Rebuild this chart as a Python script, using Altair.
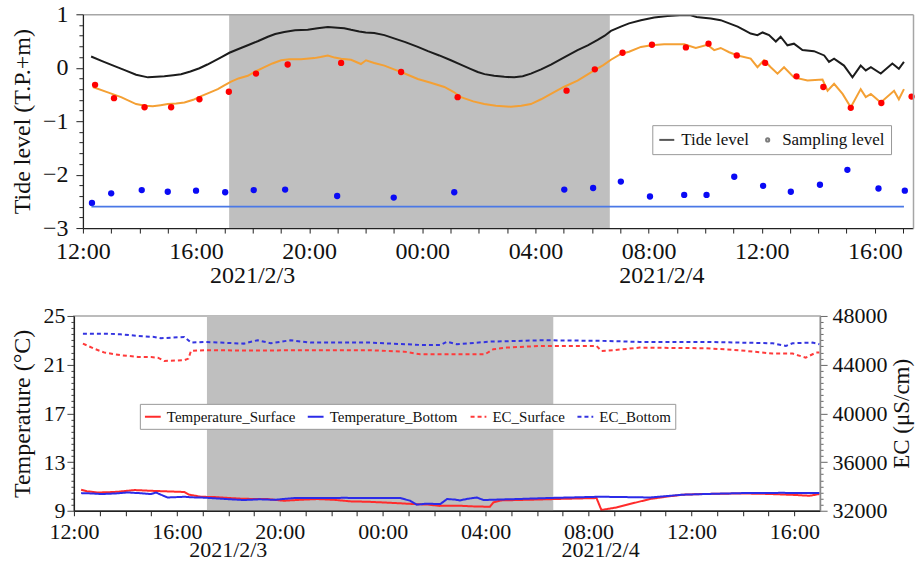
import altair as alt
import pandas as pd

FONT = "Liberation Serif"

# ---------------- top panel values (hours after 2021/2/3 12:00, metres T.P.) ----------------
tide_level = [(0.29,0.21),(0.7,0.12),(1.12,0.03),(1.5,-0.05),(1.88,-0.13),(2.3,-0.18),(2.6,-0.17),(2.88,-0.16),
    (3.2,-0.14),(3.47,-0.12),(3.8,-0.07),(4.12,-0.01),(4.4,0.06),(4.65,0.13),(4.9,0.2),(5.18,0.28),(5.5,0.35),
    (5.83,0.42),(6.2,0.5),(6.54,0.58),(6.8,0.63),(7.12,0.67),(7.5,0.7),(7.95,0.71),(8.3,0.74),(8.66,0.76),
    (9.0,0.75),(9.24,0.74),(9.48,0.71),(9.77,0.68),(10.0,0.66),(10.3,0.65),(10.66,0.61),(11.0,0.55),(11.4,0.48),
    (11.84,0.39),(12.2,0.31),(12.6,0.23),(13.01,0.14),(13.4,0.05),(13.7,-0.02),(13.96,-0.08),(14.2,-0.12),
    (14.54,-0.15),(14.9,-0.17),(15.25,-0.18),(15.55,-0.16),(15.84,-0.11),(16.2,-0.03),(16.55,0.06),(17.0,0.19),
    (17.49,0.33),(17.85,0.42),(18.2,0.52),(18.45,0.6),(18.67,0.69),(19.02,0.77),(19.31,0.83),(19.73,0.89),
    (20.2,0.94),(20.67,0.97),(21.1,0.98),(21.49,0.98),(21.7,0.95),(21.85,0.94),(22.2,0.92),(22.55,0.89),
    (22.85,0.83),(23.15,0.77),(23.4,0.7),(23.61,0.64),(23.85,0.61),(24.03,0.66),(24.26,0.61),(24.5,0.49),
    (24.67,0.58),(24.91,0.42),(25.14,0.45),(25.44,0.33),(25.85,0.31),(26.21,0.23),(26.38,0.11),(26.56,0.17),
    (26.91,0.04),(27.21,-0.18),(27.5,0.04),(27.68,-0.05),(27.86,0.01),(28.21,-0.11),(28.62,0.08),(28.85,-0.02),
    (29.03,0.11)]
surface_level = [(0.35,-0.36),(0.88,-0.46),(1.35,-0.55),(1.88,-0.68),(2.2,-0.71),(2.47,-0.72),(2.75,-0.7),
    (3.0,-0.68),(3.3,-0.67),(3.59,-0.65),(3.9,-0.6),(4.18,-0.53),(4.5,-0.46),(4.77,-0.4),(5.0,-0.33),(5.24,-0.26),
    (5.5,-0.2),(5.83,-0.15),(6.1,-0.07),(6.42,0.01),(6.7,0.08),(7.01,0.14),(7.3,0.16),(7.71,0.16),(8.18,0.18),
    (8.4,0.2),(8.66,0.23),(8.9,0.19),(9.13,0.17),(9.48,0.15),(9.83,0.07),(10.01,0.14),(10.3,0.09),(10.66,0.04),
    (11.0,-0.03),(11.25,-0.08),(11.84,-0.21),(12.3,-0.28),(12.78,-0.36),(13.1,-0.45),(13.37,-0.55),(13.8,-0.63),
    (14.19,-0.68),(14.6,-0.71),(15.13,-0.73),(15.5,-0.71),(15.84,-0.68),(16.2,-0.59),(16.55,-0.49),(17.0,-0.36),
    (17.49,-0.24),(18.08,-0.05),(18.4,0.05),(18.67,0.15),(19.02,0.26),(19.31,0.3),(19.73,0.39),(20.1,0.42),
    (20.55,0.44),(21.26,0.44),(21.67,0.37),(22.08,0.43),(22.32,0.33),(22.55,0.37),(22.85,0.29),(23.15,0.23),
    (23.61,0.17),(23.85,0.01),(24.08,0.14),(24.32,0.01),(24.56,-0.11),(24.79,0.01),(25.14,-0.18),(25.62,-0.24),
    (26.15,-0.22),(26.33,-0.43),(26.56,-0.3),(26.86,-0.49),(27.15,-0.74),(27.5,-0.4),(27.68,-0.55),(27.86,-0.49),
    (28.21,-0.65),(28.68,-0.43),(28.85,-0.59),(29.03,-0.4)]
surface_samples = [(0.43,-0.32),(1.1,-0.57),(2.18,-0.74),(3.12,-0.74),(4.12,-0.59),(5.16,-0.45),(6.12,-0.11),
    (7.24,0.06),(9.13,0.09),(11.25,-0.08),(13.25,-0.55),(17.1,-0.43),(18.1,-0.03),(19.08,0.28),(20.12,0.43),
    (21.32,0.38),(22.12,0.45),(23.12,0.23),(24.12,0.09),(25.23,-0.16),(26.18,-0.36),(27.15,-0.75),(28.23,-0.66),
    (29.3,-0.54)]
bottom_samples = [(0.32,-2.53),(1.0,-2.35),(2.08,-2.29),(3.0,-2.32),(4.0,-2.3),(5.03,-2.33),(6.04,-2.29),
    (7.15,-2.28),(8.99,-2.4),(10.99,-2.43),(13.13,-2.33),(17.02,-2.28),(18.04,-2.25),(19.02,-2.13),(20.05,-2.41),
    (21.26,-2.38),(22.05,-2.38),(23.03,-2.04),(24.05,-2.21),(25.03,-2.32),(26.06,-2.19),(27.03,-1.91),
    (28.13,-2.26),(29.06,-2.3)]
bed_level = [(0.3, 29.03, -2.6)]          # start hour, end hour, level
night = [(5.17, 18.63)]                   # shaded period
date_hours = [6.0, 20.47]
date_labels = ["2021/2/3", "2021/2/4"]
legend_keys = ["Tide level", "Sampling level"]

# ---------------- bottom panel values ----------------
temp_surface = [(0.28,10.73),(0.5,10.6),(0.93,10.5),(1.3,10.52),(1.7,10.56),(2.35,10.7),(3.0,10.64),(3.64,10.59),
    (4.29,10.54),(4.48,10.32),(4.93,10.15),(5.5,10.12),(6.0,10.05),(6.6,9.98),(7.52,9.96),(8.16,9.82),(8.8,9.9),
    (9.46,9.96),(10.1,9.9),(10.75,9.77),(11.4,9.74),(12.04,9.68),(12.6,9.62),(13.2,9.55),(13.8,9.5),(14.2,9.4),
    (15.0,9.41),(15.6,9.35),(16.17,9.33),(16.3,9.68),(16.6,9.85),(17.21,9.88),(18.0,9.92),(19.0,9.98),(20.31,10.04),
    (20.5,9.06),(21.09,9.27),(21.6,9.55),(22.38,9.96),(23.0,10.15),(23.67,10.32),(24.5,10.38),(25.99,10.42),
    (27.0,10.38),(28.0,10.3),(28.58,10.23),(28.97,10.37)]
temp_bottom = [(0.28,10.45),(0.7,10.42),(1.06,10.37),(1.6,10.42),(2.09,10.5),(2.6,10.44),(3.0,10.37),(3.19,10.5),
    (3.4,10.3),(3.64,10.09),(4.0,10.12),(4.29,10.15),(4.6,10.1),(4.93,10.09),(5.5,10.02),(6.0,9.95),(6.61,9.88),
    (7.2,9.94),(7.8,9.9),(8.55,10.04),(9.5,10.04),(10.5,10.06),(11.5,10.04),(12.69,10.04),(13.07,9.82),(13.33,9.5),
    (13.7,9.58),(14.24,9.55),(14.5,9.96),(14.8,9.92),(15.0,9.85),(15.3,9.98),(15.66,10.09),(15.92,9.88),(16.5,9.92),
    (17.21,9.96),(18.5,10.05),(20.44,10.15),(21.5,10.12),(22.38,10.09),(23.0,10.2),(23.67,10.32),(25.0,10.4),
    (25.99,10.45),(27.5,10.47),(28.97,10.45)]
ec_surface = [(0.35,45728),(0.8,45300),(1.19,44989),(1.83,44775),(2.48,44636),(3.0,44620),(3.26,44578),(3.51,44308),
    (4.29,44365),(4.45,44500),(4.55,45128),(5.06,45186),(7.0,45160),(8.94,45186),(10.0,45180),(11.52,45186),
    (12.82,45070),(13.46,44857),(14.62,44857),(15.98,44857),(16.3,45268),(16.82,45400),(18.11,45538),(20.31,45538),
    (20.5,45128),(20.95,45186),(21.99,45400),(24.57,45350),(25.86,45186),(27.15,44908),(27.93,44908),(28.44,44580),
    (28.84,44989),(28.97,45000)]
ec_bottom = [(0.35,46548),(1.19,46548),(1.8,46500),(2.48,46359),(3.12,46277),(3.38,46170),(4.29,46277),(4.55,45810),
    (5.06,45867),(6.61,45728),(7.13,46006),(7.65,45760),(8.42,46006),(9.2,45810),(11.52,45810),(13.46,45620),
    (14.24,45620),(14.5,45890),(14.88,45678),(16.18,45892),(18.24,46006),(20.7,45950),(21.99,45867),(24.57,45867),
    (27.15,45760),(27.67,45538),(27.93,45760),(28.7,45810),(28.97,45678)]
series_names = ["Temperature_Surface", "Temperature_Bottom", "EC_Surface", "EC_Bottom"]
series_colors = ["#ff2b2b", "#2b2be8", "#ff3a3a", "#3434e0"]

# ---------------- helpers ----------------
def frame(pairs):
    return pd.DataFrame(pairs, columns=["h", "v"])

hour_label = "((12 + datum.value) % 24 < 10 ? '0' : '') + ((12 + datum.value) % 24) + ':00'"

# ======================= TOP PANEL =======================
TW, TH = 840, 214
xs_top = alt.Scale(domain=[0, 29.35], range=[9, TW], nice=False, zero=False)
ys_top = alt.Scale(domain=[-3, 1], nice=False, zero=False)
is_int = "abs(datum.value - round(datum.value)) < 0.001"

ax_top_x = alt.Axis(values=list(range(0, 30)), labelExpr=f"datum.value % 4 == 0 ? {hour_label} : ''",
                    title=None, grid=False, tickSize=5, labelPadding=6, labelFontSize=24,
                    labelFlush=False, labelOverlap=False, domainColor="#222", tickColor="#222",
                    domainWidth=1.3, zindex=1)
ax_top_y = alt.Axis(values=[round(-3 + 0.2 * i, 1) for i in range(21)],
                    labelExpr=f"{is_int} ? format(round(datum.value), 'd') : ''",
                    title="Tide level (T.P.+m)", grid=False,
                    tickSize={"condition": {"test": is_int, "value": 7}, "value": 4},
                    labelPadding=8, labelFontSize=24, titleFontSize=24, titlePadding=4,
                    minExtent=44, maxExtent=44, offset=-9, labelOverlap=False, labelFlush=False,
                    domainColor="#222", tickColor="#222", domainWidth=1.3, zindex=1)

X_top = alt.X("h:Q", scale=xs_top, axis=ax_top_x)
Y_top = alt.Y("v:Q", scale=ys_top, axis=ax_top_y)

night_df = pd.DataFrame(night, columns=["h", "h2"])
shade_top = alt.Chart(night_df).mark_rect(color="#bfbfbf").encode(x=X_top, x2="h2:Q")

tide_line = alt.Chart(frame(tide_level)).mark_line(color="#1c1c1c", strokeWidth=2).encode(x=X_top, y=Y_top)
surf_line = alt.Chart(frame(surface_level)).mark_line(color="#f4a034", strokeWidth=2).encode(x=X_top, y=Y_top)
surf_pts = alt.Chart(frame(surface_samples)).mark_circle(color="#ff0000", size=40, opacity=1).encode(x=X_top, y=Y_top)
bot_pts = alt.Chart(frame(bottom_samples)).mark_circle(color="#0a0af5", size=40, opacity=1).encode(x=X_top, y=Y_top)

date_df = pd.DataFrame({"h": date_hours, "label": date_labels})
dates_top = alt.Chart(date_df).mark_text(fontSize=24, font=FONT, color="#111", baseline="alphabetic").encode(
    x=X_top, y=alt.value(TH + 55), text="label:N")

top_legend = alt.Legend(title=None, orient="none", legendX=579, legendY=111, direction="horizontal",
                        columns=2, fillColor="white", strokeColor="#999", padding=6, labelFont=FONT,
                        labelFontSize=17, labelColor="#111", symbolStrokeWidth=2, labelOffset=6,
                        columnPadding=10)
leg_df = pd.DataFrame({"k": legend_keys})
# legend-only layer: drawn first, hidden underneath the shaded night rectangle
legend_layer = alt.Chart(leg_df).mark_point(filled=False, strokeWidth=2).encode(
    x=alt.value(320), y=alt.value(110),
    color=alt.Color("k:N", scale=alt.Scale(domain=legend_keys, range=["#111", "#444"]), legend=top_legend),
    shape=alt.Shape("k:N", scale=alt.Scale(domain=legend_keys, range=["stroke", "circle"]), legend=top_legend),
    size=alt.Size("k:N", scale=alt.Scale(domain=legend_keys, range=[225, 10]), legend=top_legend),
)

main_top = alt.layer(legend_layer, shade_top, tide_line, surf_line, surf_pts, bot_pts, dates_top)

ax_frame_x = alt.Axis(orient="top", labels=False, ticks=False, title=None, grid=False,
                      domainColor="#a6a6a6", domainWidth=1.5, zindex=1, minExtent=0, maxExtent=0)
ax_frame_y = alt.Axis(orient="right", labels=False, ticks=False, title=None, grid=False,
                      domainColor="#a6a6a6", domainWidth=1.5, zindex=1, minExtent=0, maxExtent=0)
bed_df = pd.DataFrame(bed_level, columns=["h", "h2", "v"])
bed_rule = alt.Chart(bed_df).mark_rule(color="#4a78e6", strokeWidth=1.8).encode(
    x=alt.X("h:Q", scale=xs_top, axis=ax_frame_x), x2="h2:Q",
    y=alt.Y("v:Q", scale=ys_top, axis=ax_frame_y))

top = alt.layer(main_top, bed_rule).resolve_axis(x="independent", y="independent").properties(
    width=TW, height=TH)

# ======================= BOTTOM PANEL =======================
BW, BH = 747, 195
xs_bot = alt.Scale(domain=[0, 29], nice=False, zero=False)
ax_bot_x = alt.Axis(values=list(range(0, 29)), labelExpr=f"datum.value % 4 == 0 ? {hour_label} : ''",
                    title=None, grid=False, tickSize=5, labelPadding=6, labelFontSize=22,
                    labelFlush=False, labelOverlap=False, domainColor="#222", tickColor="#222",
                    domainWidth=1.3, zindex=1)
X_bot = alt.X("h:Q", scale=xs_bot, axis=ax_bot_x)

temp_major = "(datum.value - 9) % 4 == 0"
ax_temp = alt.Axis(orient="left", values=[9 + 0.5 * i for i in range(33)],
                   labelExpr=f"{temp_major} ? format(datum.value, 'd') : ''",
                   tickSize={"condition": {"test": temp_major, "value": 7}, "value": 3},
                   title="Temperature (°C)", grid=False, labelPadding=2, labelFontSize=22,
                   titleFontSize=24, titlePadding=4, minExtent=35, maxExtent=35,
                   labelOverlap=False, labelFlush=False, domainColor="#222", tickColor="#444",
                   domainWidth=1.3, zindex=1)
ec_major = "datum.value % 4000 == 0"
ax_ec = alt.Axis(orient="right", values=[32000 + 500 * i for i in range(33)],
                 labelExpr=f"{ec_major} ? format(datum.value, 'd') : ''",
                 tickSize={"condition": {"test": ec_major, "value": 7}, "value": 3},
                 title="EC (μS/cm)", titleAngle=270, titleBaseline="top", grid=False,
                 labelPadding=5, labelFontSize=22, titleFontSize=23, titlePadding=4,
                 minExtent=66, maxExtent=66, labelOverlap=False, labelFlush=False,
                 domainColor="#888", tickColor="#666", domainWidth=1.3, zindex=1)

bot_legend = alt.Legend(title=None, orient="none", legendX=66, legendY=88, direction="horizontal",
                        columns=4, fillColor="white", strokeColor="#999", padding=4, labelFont=FONT,
                        labelFontSize=15, labelColor="#111", symbolSize=250, symbolStrokeWidth=2,
                        labelOffset=5, columnPadding=8, symbolType="stroke")
color_enc = alt.Color("series:N", scale=alt.Scale(domain=series_names, range=series_colors), legend=bot_legend)
dash_enc = alt.StrokeDash("series:N", scale=alt.Scale(domain=series_names,
                          range=[[1, 0], [1, 0], [4, 3], [4, 3]]), legend=bot_legend)

temp_df = pd.concat([frame(temp_surface).assign(series=series_names[0]),
                     frame(temp_bottom).assign(series=series_names[1])])
ec_df = pd.concat([frame(ec_surface).assign(series=series_names[2]),
                   frame(ec_bottom).assign(series=series_names[3])])

shade_bot = alt.Chart(night_df).mark_rect(color="#bfbfbf").encode(x=X_bot, x2="h2:Q")
temp_lines = alt.Chart(temp_df).mark_line(strokeWidth=2).encode(
    x=X_bot, y=alt.Y("v:Q", scale=alt.Scale(domain=[9, 25], nice=False, zero=False), axis=ax_temp),
    color=color_enc, strokeDash=dash_enc, detail="series:N")
ec_lines = alt.Chart(ec_df).mark_line(strokeWidth=2).encode(
    x=X_bot, y=alt.Y("v:Q", scale=alt.Scale(domain=[32000, 48000], nice=False, zero=False), axis=ax_ec),
    color=color_enc, strokeDash=dash_enc, detail="series:N")
dates_bot = alt.Chart(date_df).mark_text(fontSize=22, font=FONT, color="#111", baseline="alphabetic").encode(
    x=X_bot, y=alt.value(BH + 46), text="label:N")

bottom = alt.layer(shade_bot, temp_lines, ec_lines, dates_bot).resolve_scale(y="independent").properties(
    width=BW, height=BH, view=alt.ViewBackground(stroke="#a6a6a6", strokeWidth=1.5))

chart = alt.vconcat(top, bottom, spacing=16).resolve_scale(
    color="independent", shape="independent", size="independent", strokeDash="independent"
).resolve_legend(
    color="independent", shape="independent", size="independent", strokeDash="independent"
).properties(
    padding={"left": 10, "top": 2, "right": 0, "bottom": 0}
).configure(font=FONT, background="white").configure_view(stroke=None).configure_axis(
    labelFont=FONT, titleFont=FONT, titleFontWeight="normal", labelColor="#111", titleColor="#111"
)

chart.save("out.html", embed_options={"renderer": "svg", "actions": False})
